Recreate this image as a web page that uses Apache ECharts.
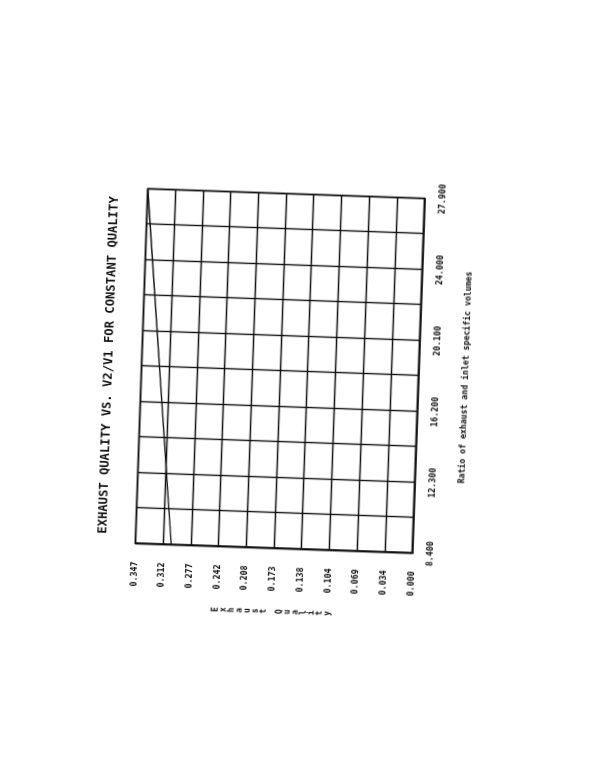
<!DOCTYPE html>
<html>
<head>
<meta charset="utf-8">
<script src="https://cdn.jsdelivr.net/npm/echarts@6/dist/echarts.min.js"></script>
<style>
  html, body { margin: 0; padding: 0; background: #ffffff; }
  body { width: 612px; height: 779px; position: relative; overflow: hidden; }
  #chart { position: absolute; left: 20px; top: 171px; width: 520px; height: 400px;
           transform: rotate(-88deg); transform-origin: 50% 50%; }
</style>
</head>
<body>
<div id="chart"></div>
<script>
// ---- data ----
const titleText = 'EXHAUST QUALITY VS. V2/V1 FOR CONSTANT QUALITY';
const xAxisName = 'Ratio of exhaust and inlet specific volumes';
const yAxisName = 'Exhaust Quality';
const xTickLabels = ['8.400', '12.300', '16.200', '20.100', '24.000', '27.900'];
const yTickLabels = ['0.000', '0.034', '0.069', '0.104', '0.138', '0.173', '0.208', '0.242', '0.277', '0.312', '0.347'];
const ratioValues = [8.4, 27.9];
const qualityValues = [0.302, 0.347];

const xMin = 8.4, xMax = 27.9, xStep = 1.95;
const yMin = 0, yMax = 0.347, yStep = 0.0347;

const mono = 'DejaVu Sans Mono';
const chart = echarts.init(document.getElementById('chart'), null, { renderer: 'canvas' });
chart.setOption({
  backgroundColor: '#ffffff',
  animation: false,
  title: {
    text: titleText,
    left: 'center',
    top: 18,
    textStyle: { fontFamily: mono, fontWeight: 'bold', fontSize: 12.2, color: '#111' }
  },
  grid: { left: 82.5, right: 82.5, top: 61.5, bottom: 61.5, show: true, borderColor: '#111', borderWidth: 1.5 },
  xAxis: {
    type: 'value', min: xMin, max: xMax, interval: xStep,
    name: xAxisName, nameLocation: 'middle', nameGap: 43,
    nameTextStyle: { fontFamily: mono, fontWeight: 'bold', fontSize: 8.2, color: '#111' },
    axisLine: { show: true, lineStyle: { color: '#111', width: 1.5 } },
    axisTick: { show: false },
    axisLabel: {
      margin: 14, fontFamily: mono, fontWeight: 'bold', fontSize: 8.3, color: '#111',
      showMinLabel: true, showMaxLabel: true,
      formatter: function (v) {
        const k = Math.round((v - xMin) / xStep);
        return (k % 2 === 0) ? xTickLabels[k / 2] : '';
      }
    },
    splitLine: { show: true, lineStyle: { color: '#111', width: 1.4 } }
  },
  yAxis: {
    type: 'value', min: yMin, max: yMax, interval: yStep,
    name: yAxisName.split('').join('\n'), nameLocation: 'middle', nameRotate: 0, nameGap: 63,
    nameTextStyle: { fontFamily: mono, fontWeight: 'bold', fontSize: 8, lineHeight: 8, color: '#111', align: 'center', verticalAlign: 'middle' },
    axisLine: { show: true, lineStyle: { color: '#111', width: 1.5 } },
    axisTick: { show: false },
    axisLabel: {
      margin: 18, fontFamily: mono, fontWeight: 'bold', fontSize: 8.3, color: '#111',
      showMinLabel: true, showMaxLabel: true,
      formatter: function (v) { return yTickLabels[Math.round((v - yMin) / yStep)]; }
    },
    splitLine: { show: true, lineStyle: { color: '#111', width: 1.4 } }
  },
  series: [{
    type: 'line',
    data: ratioValues.map((r, i) => [r, qualityValues[i]]),
    showSymbol: false,
    lineStyle: { color: '#111', width: 1.4 }
  }]
});
</script>
</body>
</html>
